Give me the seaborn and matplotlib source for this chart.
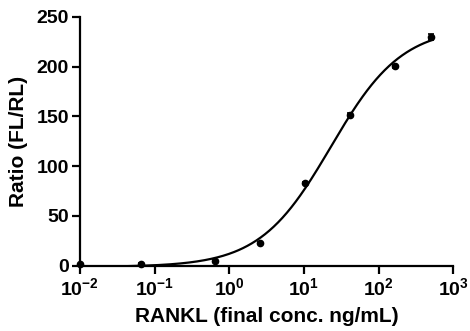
import matplotlib
matplotlib.use('Agg')
import matplotlib.pyplot as plt
import seaborn as sns
import numpy as np
import pandas as pd

conc = [0.01, 0.0651, 0.651, 2.6, 10.4, 41.7, 166.7, 500]
ratio = [1.5, 2.0, 5.0, 23.0, 83.0, 151.5, 200.5, 230.0]
sd = [0.5, 0.5, 0.8, 1.0, 1.2, 1.5, 1.5, 3.0]
xtick_labels = ['-2', '-1', '0', '1', '2', '3']

df = pd.DataFrame({'conc': conc, 'ratio': ratio, 'sd': sd})

# 4-parameter logistic fit: grid over EC50/hill, bottom/top by least squares
x = np.array(conc)
y = np.array(ratio)
best = None
for logec in np.linspace(0, 2.5, 251):
    for hill in np.linspace(0.5, 2.0, 151):
        f = 1.0 / (1.0 + (10**logec / x) ** hill)
        A = np.column_stack([1 - f, f])
        coef, *_ = np.linalg.lstsq(A, y, rcond=None)
        err = np.sum((A @ coef - y) ** 2)
        if best is None or err < best[0]:
            best = (err, logec, hill, coef)
_, logec, hill, (bottom, top) = best

xs = np.logspace(np.log10(0.02), np.log10(500), 300)
fit = pd.DataFrame({'conc': xs,
                    'ratio': bottom + (top - bottom) / (1 + (10**logec / xs) ** hill)})

sns.set_style('ticks')
plt.rcParams['font.family'] = ['Liberation Sans', 'DejaVu Sans']
plt.rcParams['font.weight'] = 'bold'
plt.rcParams['axes.unicode_minus'] = False
plt.rcParams['mathtext.fontset'] = 'custom'
plt.rcParams['mathtext.rm'] = 'Liberation Sans:bold'
plt.rcParams['mathtext.bf'] = 'Liberation Sans:bold'

fig, ax = plt.subplots(figsize=(4.7, 3.31), dpi=100)
fig.subplots_adjust(left=0.17, right=0.9645, bottom=0.197, top=0.9495)

sns.lineplot(data=fit, x='conc', y='ratio', color='black', linewidth=1.6, ax=ax)
ax.errorbar(df['conc'], df['ratio'], yerr=df['sd'], fmt='o', color='black',
            ms=4.5, elinewidth=1.2, capsize=2.5, capthick=1.2, clip_on=False, zorder=5)

ax.set_xscale('log')
ax.set_xlim(0.01, 1000)
ax.set_ylim(0, 250)
ax.set_yticks([0, 50, 100, 150, 200, 250])
ax.set_xticks([0.01, 0.1, 1, 10, 100, 1000])
ax.set_xticklabels([r'$\mathbf{10^{%s}}$' % e for e in xtick_labels])
ax.xaxis.set_minor_locator(matplotlib.ticker.NullLocator())

for s in ['left', 'bottom']:
    ax.spines[s].set_linewidth(1.6)
    ax.spines[s].set_color('black')
sns.despine(ax=ax)
ax.tick_params(width=1.6, length=6, labelsize=14, colors='black', pad=2)

ax.set_xlabel('RANKL (final conc. ng/mL)', fontsize=15, fontweight='bold',
              color='black', labelpad=6)
ax.set_ylabel('Ratio (FL/RL)', fontsize=15, fontweight='bold',
              color='black', labelpad=6)

fig.savefig('out.png', dpi=100)
